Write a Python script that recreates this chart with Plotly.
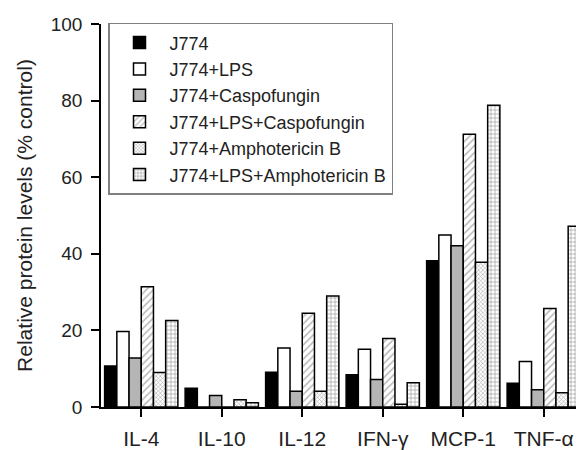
import plotly.graph_objects as go

categories = ["IL-4", "IL-10", "IL-12", "IFN-γ", "MCP-1", "TNF-α"]
series_names = ["J774", "J774+LPS", "J774+Caspofungin", "J774+LPS+Caspofungin",
                "J774+Amphotericin B", "J774+LPS+Amphotericin B"]
j774 = [10.7, 4.9, 9.1, 8.4, 38.2, 6.2]
j774_lps = [19.7, 0, 15.4, 15.1, 44.9, 11.9]
j774_caspo = [12.8, 3.0, 4.1, 7.2, 42.1, 4.5]
j774_lps_caspo = [31.4, 0, 24.5, 17.9, 71.2, 25.7]
j774_ampho = [9.0, 1.9, 4.1, 0.7, 37.8, 3.7]
j774_lps_ampho = [22.6, 1.1, 29.0, 6.3, 78.8, 47.2]
y_ticks = [0, 20, 40, 60, 80, 100]

series_values = [j774, j774_lps, j774_caspo, j774_lps_caspo, j774_ampho, j774_lps_ampho]
styles = [
    dict(color="#000000", pattern=dict(shape="")),
    dict(color="#ffffff", pattern=dict(shape="")),
    dict(color="#b5b5b5", pattern=dict(shape="")),
    dict(color="#ffffff", pattern=dict(shape="/", fgcolor="#707070", bgcolor="#ffffff", size=5, solidity=0.3, fillmode="overlay")),
    dict(color="#ffffff", pattern=dict(shape="x", fgcolor="#505050", bgcolor="#ffffff", size=3, solidity=0.35, fillmode="overlay")),
    dict(color="#ffffff", pattern=dict(shape="+", fgcolor="#505050", bgcolor="#ffffff", size=4, solidity=0.35, fillmode="overlay")),
]

fig = go.Figure()
for name, vals, st in zip(series_names, series_values, styles):
    fig.add_trace(go.Bar(
        x=categories, y=vals, name=name,
        marker=dict(color=st["color"], pattern=st["pattern"],
                    line=dict(color="#000000", width=1.5)),
    ))

font_family = "Liberation Sans, Arial, sans-serif"
fig.update_layout(
    width=576, height=442,
    margin=dict(l=93, r=0, t=16, b=35),
    paper_bgcolor="#ffffff", plot_bgcolor="#ffffff",
    barmode="group", bargap=0.09, bargroupgap=0,
    font=dict(family=font_family, size=19, color="#222222"),
    showlegend=True,
    legend=dict(
        x=0.0145, y=1.003, xanchor="left", yanchor="top",
        bordercolor="#808080", borderwidth=1.5, bgcolor="#ffffff",
        font=dict(size=18, family=font_family, color="#222222"),
        tracegroupgap=0, itemwidth=50,
    ),
    xaxis=dict(
        showline=True, linecolor="#000000", linewidth=1.5,
        ticks="outside", ticklen=8, tickcolor="#000000", tickwidth=1.5,
        showgrid=False, zeroline=False,
        tickfont=dict(size=21),
        ticklabelstandoff=4,
    ),
    yaxis=dict(
        range=[0, 100], tickvals=y_ticks,
        showline=True, linecolor="#000000", linewidth=1.5,
        ticks="outside", ticklen=8, tickcolor="#000000", tickwidth=1.5,
        showgrid=False, zeroline=False,
        tickfont=dict(size=19),
        ticklabelstandoff=5,
        title=dict(text="Relative protein levels (% control)", font=dict(size=21), standoff=12),
    ),
)

fig.write_html("out.html")
